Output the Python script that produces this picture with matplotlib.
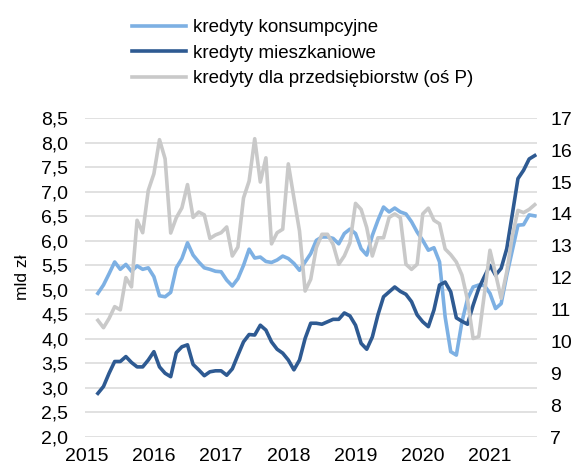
import matplotlib
matplotlib.use("Agg")
import matplotlib.pyplot as plt
import numpy as np

plt.rcParams['font.family'] = ['Liberation Sans', 'DejaVu Sans']

# monthly data, Mar 2015 - Sep 2021
start_year = 2015
start_month = 3
cons = [4.93, 5.10, 5.33, 5.57, 5.42, 5.52, 5.38, 5.49, 5.42, 5.45,
        5.27, 4.88, 4.86, 4.95, 5.45, 5.64, 5.96, 5.71, 5.57, 5.45,
        5.42, 5.38, 5.37, 5.20, 5.08, 5.23, 5.50, 5.83, 5.65, 5.67,
        5.58, 5.56, 5.61, 5.69, 5.64, 5.54, 5.40, 5.57, 5.74, 6.01,
        6.08, 6.08, 6.05, 5.94, 6.15, 6.24, 6.15, 5.84, 5.71, 6.11,
        6.42, 6.69, 6.59, 6.67, 6.59, 6.55, 6.39, 6.18, 6.01, 5.81,
        5.86, 5.57, 4.45, 3.74, 3.67, 4.35, 4.82, 5.06, 5.10, 5.09,
        4.93, 4.62, 4.72, 5.30, 5.81, 6.32, 6.33, 6.53, 6.51]
mort = [2.89, 3.03, 3.30, 3.54, 3.54, 3.64, 3.52, 3.43, 3.43, 3.57,
        3.74, 3.43, 3.30, 3.23, 3.72, 3.84, 3.88, 3.48, 3.37, 3.25,
        3.33, 3.35, 3.35, 3.26, 3.39, 3.67, 3.94, 4.09, 4.08, 4.28,
        4.18, 3.94, 3.79, 3.71, 3.57, 3.37, 3.57, 4.01, 4.32, 4.32,
        4.30, 4.35, 4.40, 4.40, 4.53, 4.47, 4.28, 3.91, 3.79, 4.04,
        4.49, 4.86, 4.96, 5.06, 4.97, 4.91, 4.76, 4.49, 4.35, 4.25,
        4.59, 5.10, 5.16, 4.96, 4.43, 4.36, 4.30, 4.69, 5.03, 5.27,
        5.50, 5.30, 5.44, 5.84, 6.55, 7.27, 7.44, 7.67, 7.74]
corp = [10.66, 10.43, 10.72, 11.09, 10.99, 12.00, 11.71, 13.80, 13.41, 14.74,
        15.26, 16.33, 15.73, 13.40, 13.88, 14.19, 14.92, 13.89, 14.06, 13.97,
        13.23, 13.34, 13.41, 13.59, 12.68, 12.96, 14.50, 15.03, 16.36, 15.00,
        15.76, 13.06, 13.41, 13.52, 15.57, 14.50, 13.46, 11.58, 11.95, 12.94,
        13.36, 13.36, 13.04, 12.42, 12.68, 13.09, 14.33, 14.14, 13.57, 12.68,
        13.25, 13.25, 13.89, 14.00, 13.88, 12.42, 12.26, 12.42, 14.00, 14.18,
        13.80, 13.69, 12.90, 12.72, 12.49, 12.08, 11.30, 10.09, 10.15, 11.48,
        12.86, 12.12, 11.35, 12.18, 13.32, 14.11, 14.04, 14.14, 14.29]
labels = ["kredyty konsumpcyjne", "kredyty mieszkaniowe",
          "kredyty dla przedsiębiorstw (oś P)"]
year_ticks = [2015, 2016, 2017, 2018, 2019, 2020, 2021]
left_ticks = [2.0, 2.5, 3.0, 3.5, 4.0, 4.5, 5.0, 5.5, 6.0, 6.5, 7.0, 7.5, 8.0, 8.5]
right_ticks = [7, 8, 9, 10, 11, 12, 13, 14, 15, 16, 17]

x = start_year + (start_month - 1 + np.arange(len(cons))) / 12.0

c_cons = "#7DB0E3"
c_mort = "#2E5A92"
c_corp = "#C9C9C9"
grid_c = "#D9D9D9"
fs = 14

fig = plt.figure(figsize=(5.75, 4.69), dpi=100)
ax = fig.add_axes([85/575, 1-437/469, (537-85)/575, (437-118.3)/469])
ax2 = ax.twinx()

for y in left_ticks:
    ax.axhline(y, color=grid_c, lw=1.1, zorder=0)

l1, = ax.plot(x, cons, color=c_cons, lw=2.6, solid_joinstyle='round', zorder=3)
l2, = ax.plot(x, mort, color=c_mort, lw=2.6, solid_joinstyle='round', zorder=3)
l3, = ax2.plot(x, corp, color=c_corp, lw=2.6, solid_joinstyle='round', zorder=3)

ax.set_xlim(2014.975, 2021.70)
ax.set_ylim(2.0, 8.5)
ax2.set_ylim(7, 17)
ax.set_yticks(left_ticks)
ax.set_yticklabels([f"{t:.1f}".replace('.', ',') for t in left_ticks], fontsize=fs)
ax2.set_yticks(right_ticks)
ax2.set_yticklabels([str(t) for t in right_ticks], fontsize=fs)
ax.set_xticks(year_ticks)
ax.set_xticklabels([str(t) for t in year_ticks], fontsize=fs)

for a in (ax, ax2):
    for s in a.spines.values():
        s.set_visible(False)
    a.tick_params(length=0)
ax.tick_params(axis='x', pad=8)
ax.tick_params(axis='y', pad=12)
ax2.tick_params(axis='y', pad=9.5)

ax.set_ylabel("mld zł", fontsize=12.5, labelpad=8)

fig.legend([l1, l2, l3], labels, loc='upper left',
           bbox_to_anchor=(131.7/575, 1-19/469), frameon=False,
           fontsize=13.5, handlelength=2.9, handletextpad=0.35,
           labelspacing=0.45, borderpad=0, borderaxespad=0)

fig.savefig("out.png", dpi=100)
